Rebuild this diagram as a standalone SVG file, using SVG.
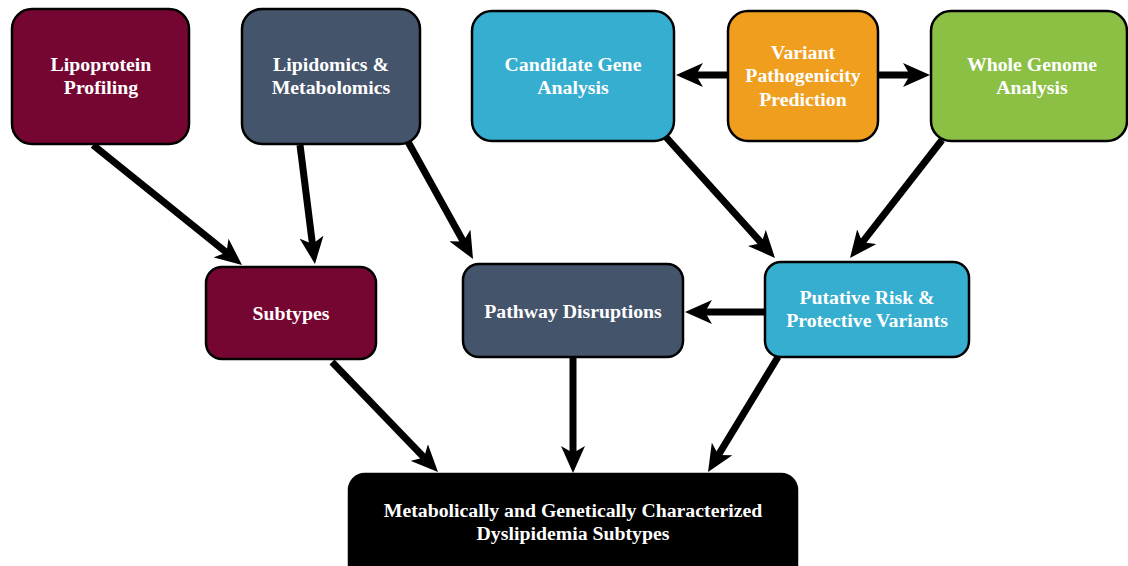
<svg xmlns="http://www.w3.org/2000/svg" width="1128" height="566" viewBox="0 0 1128 566">
<style>
.box{stroke:#000;stroke-width:2.5}
.t{font-family:"Liberation Serif","Times New Roman",serif;font-weight:bold;font-size:19.8px;fill:#fff;text-anchor:middle}
.c{stroke:#000;stroke-width:7;fill:none}
</style>
<defs>
<marker id="ah" markerUnits="userSpaceOnUse" markerWidth="27" markerHeight="24" viewBox="0 0 27 24" refX="9" refY="12" orient="auto">
<path d="M0,0 L27,12 L0,24 L7,12 Z" fill="#000"/>
</marker>
</defs>
<rect width="1128" height="566" fill="#fff"/>
<g id="connectors">
<line class="c" x1="93" y1="145" x2="228" y2="253.7" marker-end="url(#ah)"/>
<line class="c" x1="300" y1="145" x2="312.7" y2="246.1" marker-end="url(#ah)"/>
<line class="c" x1="407" y1="140" x2="464.3" y2="243.3" marker-end="url(#ah)"/>
<line class="c" x1="665" y1="136" x2="762.9" y2="244.6" marker-end="url(#ah)"/>
<line class="c" x1="942" y1="140" x2="861.1" y2="243.8" marker-end="url(#ah)"/>
<line class="c" x1="765" y1="312" x2="703" y2="312" marker-end="url(#ah)"/>
<line class="c" x1="332" y1="362" x2="425.5" y2="459" marker-end="url(#ah)"/>
<line class="c" x1="573" y1="357" x2="573" y2="455" marker-end="url(#ah)"/>
<line class="c" x1="778" y1="357" x2="717.4" y2="456.6" marker-end="url(#ah)"/>
<line class="c" x1="727" y1="75" x2="694" y2="75" marker-end="url(#ah)"/>
<line class="c" x1="878" y1="75" x2="912" y2="75" marker-end="url(#ah)"/>
</g>
<g id="lipoprotein">
<rect class="box" x="12" y="9" width="177" height="135" rx="20" fill="#750631"/>
<text class="t" x="101" y="71">Lipoprotein</text>
<text class="t" x="101" y="94">Profiling</text>
</g>
<g id="lipidomics">
<rect class="box" x="242" y="9" width="178" height="135" rx="20" fill="#44546A"/>
<text class="t" x="331" y="71">Lipidomics &amp;</text>
<text class="t" x="331" y="94">Metabolomics</text>
</g>
<g id="candidate">
<rect class="box" x="472" y="11" width="202" height="130" rx="20" fill="#36AECF"/>
<text class="t" x="573" y="71">Candidate Gene</text>
<text class="t" x="573" y="94">Analysis</text>
</g>
<g id="variant">
<rect class="box" x="728" y="11" width="150" height="130" rx="20" fill="#F09E1E"/>
<text class="t" x="803" y="59">Variant</text>
<text class="t" x="803" y="82">Pathogenicity</text>
<text class="t" x="803" y="106">Prediction</text>
</g>
<g id="wholegenome">
<rect class="box" x="931" y="11" width="196" height="130" rx="20" fill="#8BC045"/>
<text class="t" x="1032" y="71">Whole Genome</text>
<text class="t" x="1032" y="94">Analysis</text>
</g>
<g id="subtypes">
<rect class="box" x="206" y="267" width="170" height="92" rx="16" fill="#750631"/>
<text class="t" x="291" y="320">Subtypes</text>
</g>
<g id="pathway">
<rect class="box" x="463" y="264" width="220" height="93" rx="16" fill="#44546A"/>
<text class="t" x="573" y="318">Pathway Disruptions</text>
</g>
<g id="putative">
<rect class="box" x="765" y="262" width="204" height="95" rx="16" fill="#36AECF"/>
<text class="t" x="867" y="304">Putative Risk &amp;</text>
<text class="t" x="867" y="327">Protective Variants</text>
</g>
<g id="final">
<rect class="box" x="349" y="474" width="448" height="110" rx="16" fill="#000"/>
<text class="t" x="573" y="517">Metabolically and Genetically Characterized</text>
<text class="t" x="573" y="540">Dyslipidemia Subtypes</text>
</g>
</svg>
